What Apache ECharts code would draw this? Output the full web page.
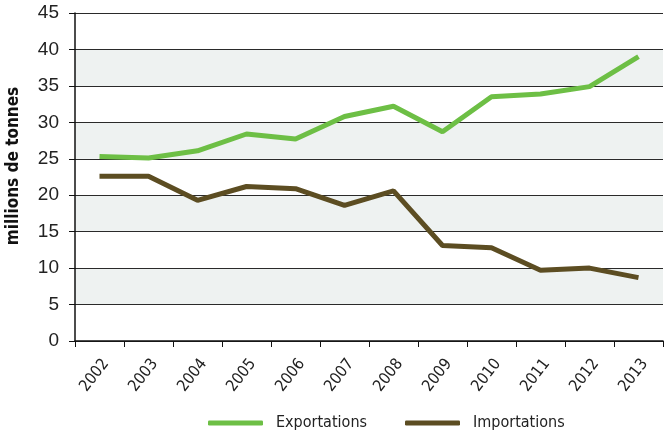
<!DOCTYPE html>
<html>
<head>
<meta charset="utf-8">
<script src="https://cdn.jsdelivr.net/npm/echarts@6/dist/echarts.min.js"></script>
<style>
  html, body { margin: 0; padding: 0; background: #fff; }
  #chart { width: 665px; height: 433px; }
</style>
</head>
<body>
<div id="chart"></div>
<script>
const years = ['2002', '2003', '2004', '2005', '2006', '2007', '2008', '2009', '2010', '2011', '2012', '2013']
const exportations = [25.3, 25.1, 26.1, 28.4, 27.7, 30.8, 32.2, 28.7, 33.5, 33.9, 34.9, 39.0]
const importations = [22.6, 22.6, 19.3, 21.2, 20.9, 18.6, 20.6, 13.1, 12.8, 9.7, 10.0, 8.7]

const chart = echarts.init(document.getElementById('chart'))
const narrow = '"DejaVu Sans Condensed", "Liberation Sans Narrow", sans-serif'

chart.setOption({
  animation: false,
  grid: { left: 75, right: 2, top: 13, bottom: 92, outerBoundsMode: 'none' },
  legend: {
    top: 410,
    left: 203,
    itemWidth: 55,
    itemHeight: 5,
    itemGap: 38,
    icon: 'roundRect',
    textStyle: { fontFamily: narrow, fontSize: 16, color: '#222', padding: [0, 0, 0, 8] },
    data: ['Exportations', 'Importations'],
  },
  xAxis: {
    type: 'category',
    data: years,
    boundaryGap: true,
    axisLine: { lineStyle: { color: '#111', width: 1.5 } },
    axisTick: { show: true, length: 6, alignWithLabel: false, lineStyle: { color: '#111' } },
    axisLabel: {
      rotate: 52, fontFamily: narrow, fontSize: 16, color: '#222', margin: 15,
      verticalAlign: 'top', lineHeight: 16,
    },
  },
  yAxis: {
    type: 'value',
    min: 0,
    max: 45,
    interval: 5,
    name: 'millions de tonnes',
    nameLocation: 'middle',
    nameRotate: 90,
    nameGap: 53,
    nameTextStyle: {
      fontFamily: narrow, fontSize: 17, fontWeight: 'bold', color: '#111',
      padding: [0, 0, 0, 22],
    },
    axisLine: { show: true, lineStyle: { color: '#111', width: 1.5 } },
    axisTick: { show: true, length: 6, lineStyle: { color: '#111' } },
    axisLabel: { fontFamily: 'Liberation Sans, Arial, sans-serif', fontSize: 19, color: '#222', margin: 16 },
    splitLine: { lineStyle: { color: '#2a2a2a', width: 1 } },
    splitArea: { show: true, areaStyle: { color: ['#ffffff', '#eef2f1'] } },
  },
  series: [
    {
      name: 'Exportations',
      type: 'line',
      data: exportations,
      showSymbol: false,
      symbol: 'none',
      itemStyle: { color: '#6dbf45' },
      lineStyle: { color: '#6dbf45', width: 5 },
    },
    {
      name: 'Importations',
      type: 'line',
      data: importations,
      showSymbol: false,
      symbol: 'none',
      itemStyle: { color: '#5c4d22' },
      lineStyle: { color: '#5c4d22', width: 5 },
    },
  ],
})
</script>
</body>
</html>
